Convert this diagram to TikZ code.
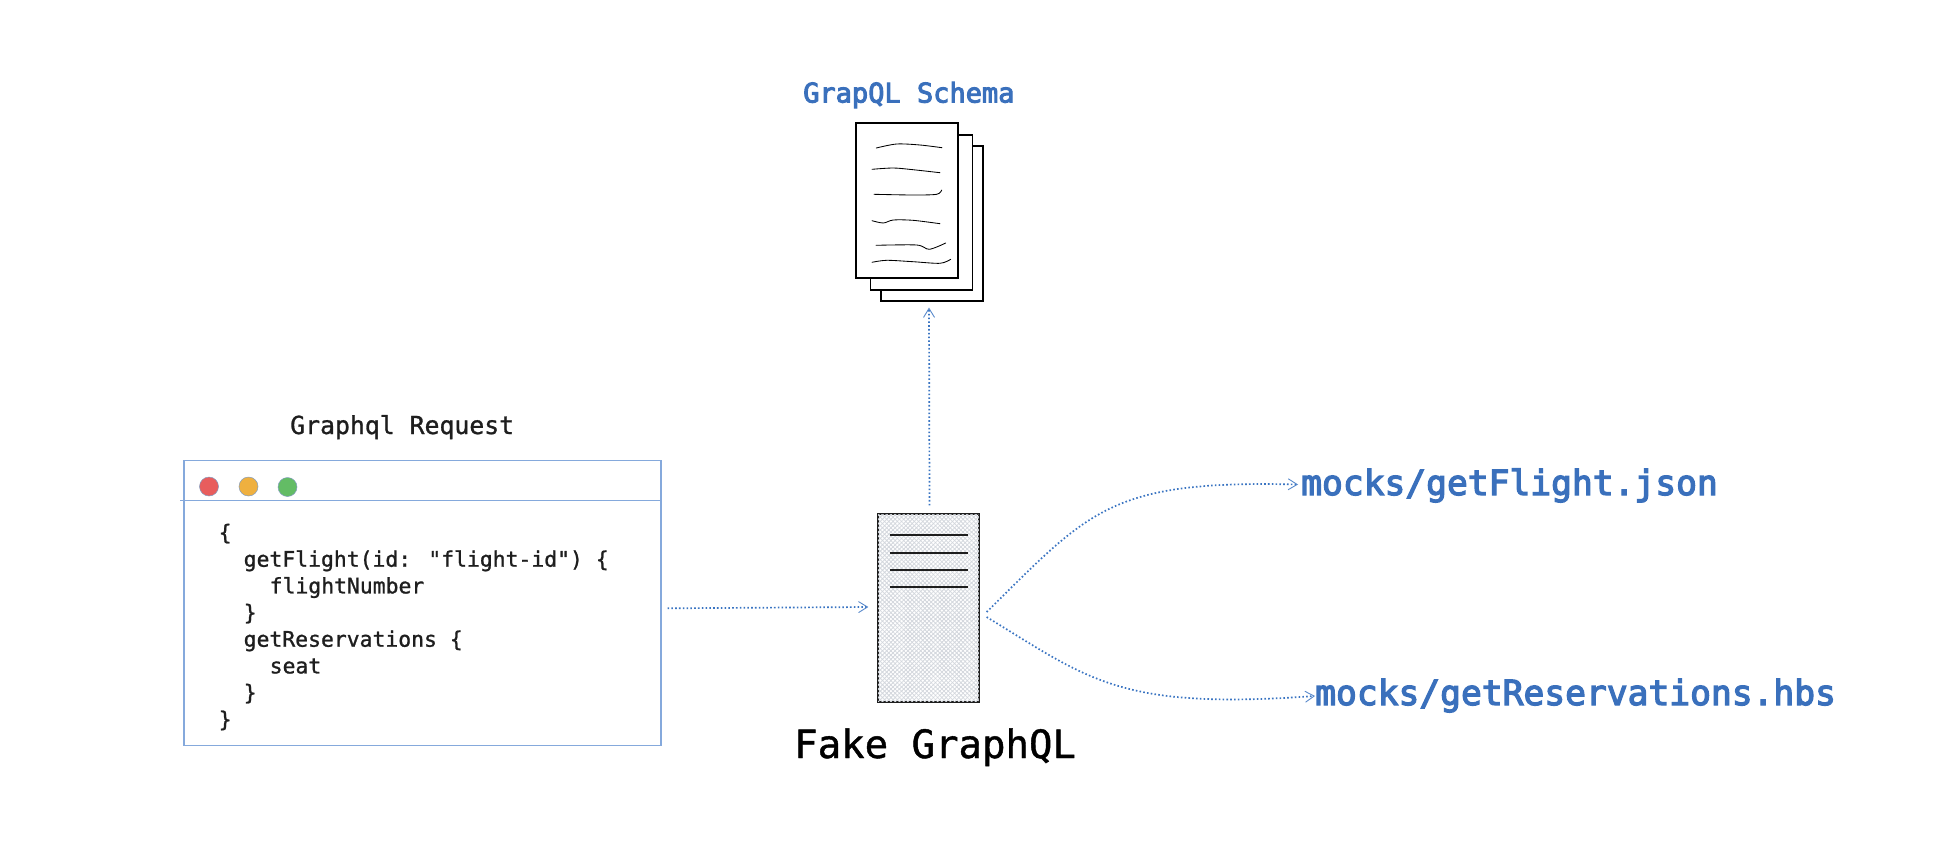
\documentclass[tikz,border=0pt]{standalone}
\usepackage{fontspec}
\newfontfamily\monoreg[FakeBold=1.1]{DejaVu Sans Mono}
\newfontfamily\monomed[FakeBold=3.6]{DejaVu Sans Mono}
\usetikzlibrary{arrows.meta,patterns.meta,calc}
\definecolor{txtblue}{HTML}{3A70BC}
\definecolor{linkblue}{HTML}{3A74C2}
\definecolor{winblue}{HTML}{85A9DC}
\definecolor{inkk}{HTML}{1E1E1E}
\definecolor{hatch}{HTML}{D3D7DD}
\definecolor{lampred}{HTML}{E85D5D}
\definecolor{lampyel}{HTML}{EFB03F}
\definecolor{lampgrn}{HTML}{63BC65}
\tikzset{
  x=1pt,y=-1pt,
  page/.style={draw=black,line width=1.1pt,fill=white,inner sep=0pt,minimum width=102pt,minimum height=155pt},
  squiggle/.style={draw=black,line width=.85pt,line cap=round},
  rack/.style={draw=inkk,line width=1.3pt,inner sep=0pt,minimum width=101pt,minimum height=188pt,fill=white},
  rackline/.style={draw=inkk,line width=1.4pt},
  win/.style={draw=winblue,line width=1.1pt,inner sep=0pt,minimum width=477pt,minimum height=285pt},
  winbar/.style={draw=winblue,line width=1.1pt},
  lamp/.style={circle,draw=winblue!70!gray,line width=.5pt,inner sep=0pt,minimum size=19pt},
  flow/.style={draw=linkblue,line width=1.7pt,dash pattern=on 1.6pt off 2.2pt,-{Straight Barb[length=9pt,width=11pt,line width=.9pt,color=linkblue!85,sep=0pt]}},
  code/.style={inner sep=0pt,anchor=base west,text=inkk,font=\monoreg\fontsize{21.4}{22}\selectfont},
  bluelabel/.style={inner sep=0pt,anchor=base west,text=txtblue},
}
\begin{document}
\begin{tikzpicture}
\useasboundingbox (0,0) rectangle (1940,846);
% titles
\node[bluelabel,font=\monomed\fontsize{27}{27}\selectfont] (schemaTitle) at (803,102.5) {GrapQL Schema};
\node[code,font=\monoreg\fontsize{24.8}{25}\selectfont] (reqTitle) at (290,434) {Graphql Request};
% documents
\node[page] (p3) at (932,223.5) {};
\node[page] (p2) at (921.3,212.5) {};
\node[page] (p1) at (907,200.5) {};
\draw[squiggle] plot[smooth] coordinates {(876.3,148) (896.7,144) (920,145) (942,147.7)};
\draw[squiggle] plot[smooth] coordinates {(872,169.3) (893.3,168) (913,169.7) (940,172.7)};
\draw[squiggle] plot[smooth] coordinates {(874,194.3) (913,195) (936.7,194.3) (941.7,190)};
\draw[squiggle] plot[smooth] coordinates {(872,220.7) (883.3,223) (893.3,220) (913,220.3) (940,223.7)};
\draw[squiggle] plot[smooth] coordinates {(876,245.3) (916.7,245) (929.3,249.3) (945.7,243)};
\draw[squiggle] plot[smooth] coordinates {(872,262.3) (886.7,260.3) (913,261.7) (940,263.3) (950.7,259.3)};
% window
\node[win] (window) at (422.5,603.3) {};
\coordinate (barL) at (180,500.7);
\coordinate (barR) at (window.east |- barL);
\draw[winbar] (barL) -- (barR);
\node[lamp,fill=lampred] (lampR) at (209,486.5) {};
\node[lamp,fill=lampyel] (lampY) at (248.5,486.5) {};
\node[lamp,fill=lampgrn] (lampG) at (287.5,487) {};
\node[code] (c1) at (218.5,540) {\{};
\node[code] (c2) at (243.5,566.7) {getFlight(id: "flight-id") \{};
\node[code] (c3) at (269.5,593.4) {flightNumber};
\node[code] (c4) at (243.5,620) {\}};
\node[code] (c5) at (243.5,646.7) {getReservations \{};
\node[code] (c6) at (269.5,673.4) {seat};
\node[code] (c7) at (243.5,700) {\}};
\node[code] (c8) at (218.5,726.8) {\}};
% server
\node[rack] (server) at (928.5,608) {};
\path[pattern={Lines[angle=45,distance=3pt,line width=.8pt]},pattern color=hatch] (server.north west) rectangle (server.south east);
\path[pattern={Lines[angle=-45,distance=3pt,line width=.8pt]},pattern color=hatch] (server.north west) rectangle (server.south east);
\draw[draw=inkk,line width=1.3pt] (server.north west) rectangle (server.south east);
\draw[rackline] (890,535) -- (968,535);
\draw[rackline] (890,553) -- (968,553);
\draw[rackline] (890,570) -- (968,570);
\draw[rackline] (890,587) -- (968,587);
\node[inner sep=0pt,anchor=base west,text=black,font=\monoreg\fontsize{39}{39}\selectfont] (fake) at (794,758) {Fake GraphQL};
% targets
\node[bluelabel,font=\monomed\fontsize{34.6}{35}\selectfont] (jsonT) at (1301,495) {mocks/getFlight.json};
\node[bluelabel,font=\monomed\fontsize{34.6}{35}\selectfont] (hbsT) at (1315,705) {mocks/getReservations.hbs};
% connector ends
\coordinate (winOut) at ([shift={(6,5)}]window.east);
\coordinate (srvIn) at ([shift={(-9,-1)}]server.west);
\coordinate (srvUp) at ([shift={(1,-8)}]server.north);
\coordinate (docIn) at ([shift={(-3,6)}]p3.south);
\coordinate (srvOutA) at ([shift={(7,4)}]server.east);
\coordinate (srvOutB) at ([shift={(7,9)}]server.east);
\coordinate (jsonIn) at ([shift={(-3,-10.5)}]jsonT.base west);
\coordinate (hbsIn) at ([shift={(0,-9)}]hbsT.base west);
\draw[flow] (winOut) -- (srvIn);
\draw[flow] (srvUp) -- (docIn);
\draw[flow] (srvOutA) .. controls (1090,510) and (1110,480) .. (jsonIn);
\draw[flow] (srvOutB) .. controls (1090,680) and (1120,710) .. (hbsIn);
\end{tikzpicture}
\end{document}
